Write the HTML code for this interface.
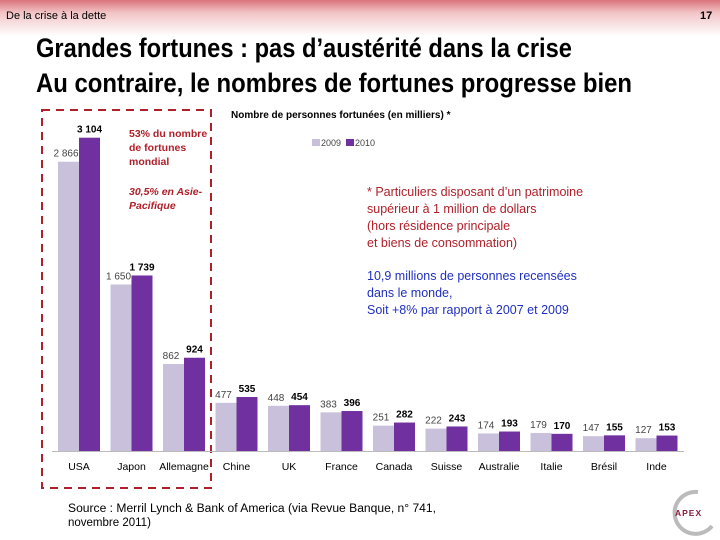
<!DOCTYPE html>
<html><head><meta charset="utf-8"><style>
html,body{margin:0;padding:0;background:#fff;}
svg{display:block;font-family:"Liberation Sans",sans-serif;}
</style></head><body>
<svg width="720" height="540" viewBox="0 0 720 540">
<defs>
<linearGradient id="hdr" x1="0" y1="0" x2="0" y2="1">
<stop offset="0" stop-color="#d9737a"/><stop offset="0.35" stop-color="#f2c4c6"/><stop offset="1" stop-color="#ffffff"/>
</linearGradient>
</defs>
<rect x="0" y="0" width="720" height="36" fill="url(#hdr)"/>
<text x="6" y="19" font-size="11">De la crise à la dette</text>
<text x="700" y="19" font-size="11" font-weight="bold">17</text>
<text x="36" y="57" font-size="27" font-weight="bold" textLength="536" lengthAdjust="spacingAndGlyphs">Grandes fortunes : pas d’austérité dans la crise</text>
<text x="36" y="92" font-size="27" font-weight="bold" textLength="596" lengthAdjust="spacingAndGlyphs">Au contraire, le nombres de fortunes progresse bien</text>
<rect x="42" y="110" width="169" height="378" fill="none" stroke="#b0202a" stroke-width="2" stroke-dasharray="8,6"/>
<text x="231" y="118" font-size="10" font-weight="bold">Nombre de personnes fortunées (en milliers) *</text>
<rect x="312" y="139" width="8" height="7" fill="#c9c1dc"/>
<text x="321" y="146" font-size="9" fill="#444">2009</text>
<rect x="346" y="139" width="8" height="7" fill="#7030a0"/>
<text x="355" y="146" font-size="9" fill="#444">2010</text>
<g font-size="10.5" font-weight="bold" fill="#b0202a">
<text x="129" y="137">53% du nombre</text>
<text x="129" y="151">de fortunes</text>
<text x="129" y="165">mondial</text>
<text x="129" y="195" font-style="italic">30,5% en Asie-</text>
<text x="129" y="209" font-style="italic">Pacifique</text>
</g>
<g font-size="12.5" fill="#b0202a">
<text x="367" y="196">* Particuliers disposant d’un patrimoine</text>
<text x="367" y="213">supérieur à 1 million de dollars</text>
<text x="367" y="230">(hors résidence principale</text>
<text x="367" y="247">et biens de consommation)</text>
</g>
<g font-size="12.5" fill="#2030c0">
<text x="367" y="280">10,9 millions de personnes recensées</text>
<text x="367" y="297">dans le monde,</text>
<text x="367" y="314">Soit +8% par rapport à 2007 et 2009</text>
</g>
<line x1="52" y1="451.5" x2="684" y2="451.5" stroke="#bbb"/>
<g id="bars"></g>
<text x="68" y="512" font-size="11.5" textLength="368" lengthAdjust="spacingAndGlyphs">Source : Merril Lynch &amp; Bank of America  (via Revue Banque, n° 741,</text>
<text x="68" y="526" font-size="11.5">novembre 2011)</text>
<g>
<path d="M698 492 A21 21 0 1 0 712 526" fill="none" stroke="#bbb" stroke-width="4"/>
<text x="675" y="516" font-size="8.5" font-weight="bold" fill="#8a1a3a" letter-spacing="1">APEX</text>
</g>
</svg>
<script>
const categories=["USA","Japon","Allemagne","Chine","UK","France","Canada","Suisse","Australie","Italie","Brésil","Inde"];
const values2009=[2866,1650,862,477,448,383,251,222,174,179,147,127];
const values2010=[3104,1739,924,535,454,396,282,243,193,170,155,153];
const labels2009=["2 866","1 650","862","477","448","383","251","222","174","179","147","127"];
const labels2010=["3 104","1 739","924","535","454","396","282","243","193","170","155","153"];
const NS="http://www.w3.org/2000/svg";
const g=document.getElementById('bars');
const base=451, k=313.3/3104;
const y=v=>base-v*k;
const x0=i=>58+i*52.5;
function mk(t,a){const e=document.createElementNS(NS,t);for(const n in a)e.setAttribute(n,a[n]);g.appendChild(e);return e;}
categories.forEach((c,i)=>{
  const xa=x0(i), xb=xa+21;
  const r1=mk('rect',{x:xa,y:y(values2009[i]),width:21,height:values2009[i]*k,fill:'#c9c1dc'});
  
  
  const r2=mk('rect',{x:xb,y:y(values2010[i]),width:21,height:values2010[i]*k,fill:'#7030a0'});
  
  
  const t1=mk('text',{x:xa+8,y:y(values2009[i])-5,'font-size':10,'text-anchor':'middle',fill:'#444'});
  t1.textContent=labels2009[i];
  
  
  const t2=mk('text',{x:xb+10.5,y:y(values2010[i])-5,'font-size':10,'font-weight':'bold','text-anchor':'middle'});
  t2.textContent=labels2010[i];
  
  
  const tl=mk('text',{x:xa+21,y:470,'font-size':10.5,'text-anchor':'middle'});
  tl.textContent=c;
  
  
});
</script>
</body></html>
